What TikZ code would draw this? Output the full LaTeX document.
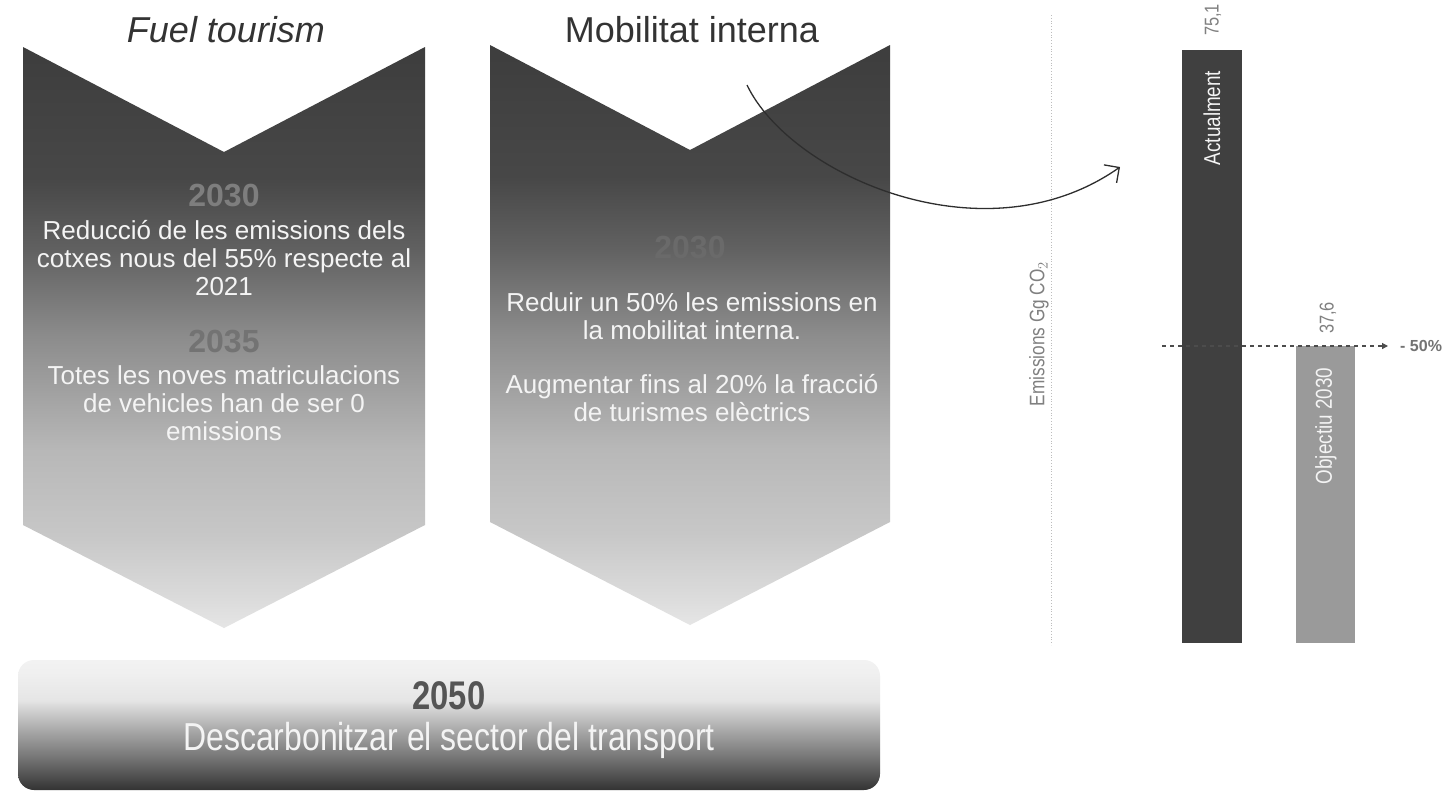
\documentclass[tikz,border=0pt]{standalone}
\usepackage{fontspec}
\setmainfont{Liberation Sans}
\newfontfamily\narrowfont[FakeStretch=0.82]{Liberation Sans}
\usetikzlibrary{arrows.meta}
\definecolor{titlegray}{HTML}{333333}
\definecolor{yeargray}{HTML}{7E7E7E}
\definecolor{yeargraytwo}{HTML}{6A6A6A}
\definecolor{textwhite}{HTML}{F4F4F4}
\definecolor{bardark}{HTML}{404040}
\definecolor{barlight}{HTML}{9A9A9A}
\definecolor{labelgray}{HTML}{808080}
\definecolor{axisgray}{HTML}{BDBDBD}
\definecolor{arrowgray}{HTML}{2E2E2E}
\definecolor{boxyear}{HTML}{555555}
\pgfdeclareverticalshading{chevshade}{100bp}{%
  color(0bp)=(black!10); color(25bp)=(black!10); color(27.4bp)=(black!14);
  color(33bp)=(black!22); color(40.3bp)=(black!28); color(50bp)=(black!45);
  color(57.5bp)=(black!62); color(63.6bp)=(black!72); color(75bp)=(black!76);
  color(100bp)=(black!76)}
\pgfdeclareverticalshading{boxshade}{100bp}{%
  color(0bp)=(black!80); color(25bp)=(black!80); color(36.5bp)=(black!56);
  color(48bp)=(black!34); color(59.6bp)=(black!10); color(70bp)=(black!6);
  color(75bp)=(black!5); color(100bp)=(black!5)}
\tikzset{
  chevron/.style={shading=chevshade},
  bottombox/.style={shading=boxshade, rounded corners=16pt},
  headtext/.style={text=titlegray, font=\fontsize{36}{40}\selectfont, inner sep=0pt},
  yeartext/.style={text=yeargray, font=\fontsize{32}{36}\selectfont\bfseries, inner sep=0pt},
  bodytext/.style={text=textwhite, align=center, inner sep=0pt, font=\fontsize{26}{28}\selectfont},
  chartlabel/.style={text=labelgray, font=\narrowfont\fontsize{20}{22}\selectfont, inner sep=0pt, rotate=90},
  barlabel/.style={text=textwhite, font=\narrowfont\fontsize{23}{25}\selectfont, inner sep=0pt, rotate=90},
  curvearrow/.style={draw=arrowgray, line width=1.3pt, -{Straight Barb[length=11pt,width=22pt,line width=1.3pt]}},
  halfline/.style={draw=black!70, line width=1.2pt, dash pattern=on 4pt off 4pt, -{Triangle[length=6pt,width=6pt]}},
}
\begin{document}
\begin{tikzpicture}[x=1pt,y=-1pt]
\useasboundingbox[fill=white] (0,0) rectangle (1445,793);
% chevrons
\shade[chevron] (23,47) -- (224,152) -- (425,47) -- (425,525) -- (224,628) -- (23,525) -- cycle;
\shade[chevron] (490,45) -- (690,150) -- (890,45) -- (890,522) -- (690,625) -- (490,522) -- cycle;
% headings
\node[headtext] (h1) at (226,30) {\itshape Fuel tourism};
\node[headtext] (h2) at (692,30) {Mobilitat interna};
% chevron 1 texts
\node[yeartext] (y1) at (224,196) {2030};
\node[bodytext] (t1) at (224,258) {Reducció de les emissions dels\\cotxes nous del 55\% respecte al\\2021};
\node[yeartext, text=black!55] (y2) at (224,341) {2035};
\node[bodytext] (t2) at (224,403) {Totes les noves matriculacions\\de vehicles han de ser 0\\emissions};
% chevron 2 texts
\node[yeartext, text=yeargraytwo] (y3) at (690,248) {2030};
\node[bodytext] (t3) at (692,316) {Reduir un 50\% les emissions en\\la mobilitat interna.};
\node[bodytext] (t4) at (692,398) {Augmentar fins al 20\% la fracció\\de turismes elèctrics};
% bottom box
\shade[bottombox] (18,660) rectangle (880,790);
\node[text=boxyear, font=\narrowfont\fontsize{40}{44}\selectfont\bfseries, inner sep=0pt] (y4) at (449,696) {2050};
\node[text=textwhite, font=\narrowfont\fontsize{39}{42}\selectfont, inner sep=0pt] (t5) at (449,740) {Descarbonitzar el sector del transport};
% chart
\draw[axisgray, line width=0.8pt, dotted] (1051,15) -- (1051,645);
\node[chartlabel, font=\narrowfont\fontsize{21}{23}\selectfont] (ax) at (1039,334) {Emissions Gg CO$_2$};
\fill[bardark] (1182,50) rectangle (1242,643);
\fill[barlight] (1296,346) rectangle (1355,643);
\node[chartlabel] (v1) at (1213,20) {75,1};
\node[chartlabel] (v2) at (1328,318) {37,6};
\node[barlabel] (b1) at (1212,118) {Actualment};
\node[barlabel] (b2) at (1326,426) {Objectiu 2030};
\coordinate (hs) at (1162,346);
\coordinate (he) at (1388,346);
\draw[halfline] (hs) -- (he);
\node[anchor=west, text=black!55, font=\fontsize{16}{18}\selectfont\bfseries, inner sep=0pt] (pct) at (1400,346) {- 50\%};
% curved arrow
\coordinate (as) at (747,85);
\coordinate (ae) at (1120,167);
\draw[curvearrow] (as) .. controls (790,175) and (985,262) .. (ae);
\end{tikzpicture}
\end{document}
